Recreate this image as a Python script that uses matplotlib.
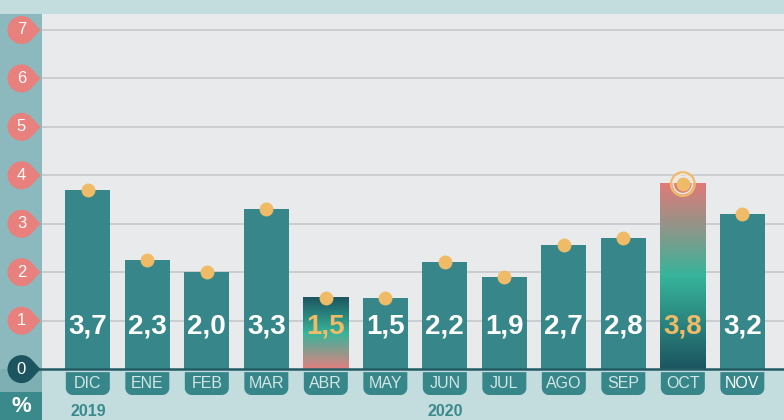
import numpy as np
import matplotlib
matplotlib.use("Agg")
import matplotlib.pyplot as plt
from matplotlib.patches import Polygon, Rectangle
from matplotlib.colors import LinearSegmentedColormap

months = ["DIC", "ENE", "FEB", "MAR", "ABR", "MAY", "JUN", "JUL", "AGO", "SEP", "OCT", "NOV"]
# bar heights as drawn in the picture
bar_heights = [3.70, 2.26, 2.0, 3.30, 1.47, 1.47, 2.21, 1.90, 2.57, 2.71, 3.82, 3.20]
value_labels = ["3,7", "2,3", "2,0", "3,3", "1,5", "1,5", "2,2", "1,9", "2,7", "2,8", "3,8", "3,2"]
highlight = ["ABR", "OCT"]
years = [("2019", 0), ("2020", 6)]
yticks = [0, 1, 2, 3, 4, 5, 6, 7]

W, H = 784, 420
plt.rcParams['font.family'] = ['Liberation Sans', 'DejaVu Sans']

TEAL = "#37878a"
DARK = "#1c5560"
PINK = "#e8807d"
ORANGE = "#f0bb66"
GREEN = "#37b49b"
LIGHT = "#c3dcde"
PLOTBG = "#e9eaec"

fig = plt.figure(figsize=(W / 100, H / 100), dpi=100)
fig.patch.set_facecolor(LIGHT)

ax = fig.add_axes([42 / W, 0, (W - 42) / W, (H - 14) / H])
ax.set_facecolor(PLOTBG)
ax.axis("off")
ax.add_patch(Rectangle((-0.77, 7.33), 12.47, -8.38, facecolor=PLOTBG, edgecolor="none", zorder=0))
ax.axhspan(-1.05, 0, color=LIGHT, zorder=0.5)

for t in yticks[1:]:
    ax.axhline(t, color="#c8cace", lw=1.3, zorder=1)

bw = 0.76
x = np.arange(len(months))
grad_abr = LinearSegmentedColormap.from_list("abr", ["#e2807f", GREEN, DARK])
grad_oct = LinearSegmentedColormap.from_list("oct", [DARK, GREEN, "#e07a78"])
for i, (m, v) in enumerate(zip(months, bar_heights)):
    if m in highlight:
        cmap = grad_abr if m == "ABR" else grad_oct
        grad = np.linspace(0, 1, 256).reshape(-1, 1)
        ax.imshow(grad, cmap=cmap, origin="lower", aspect="auto",
                  extent=[i - bw / 2, i + bw / 2, 0, v], zorder=2)
    else:
        ax.bar(i, v, width=bw, color=TEAL, zorder=2)
    col = ORANGE if m in highlight else "white"
    ax.text(i, 0.88, value_labels[i], ha="center", va="center", fontsize=20,
            fontweight="bold", color=col, zorder=5)

ax.scatter(x, bar_heights, s=100, color=ORANGE, zorder=6, linewidths=0)
oi = months.index("OCT")
ax.scatter([oi], [bar_heights[oi]], s=290, facecolor="none", edgecolor=ORANGE, linewidths=1.6, zorder=6)
ax.scatter([oi], [bar_heights[oi]], s=190, facecolor="none", edgecolor="#f4e6da", linewidths=1.2, zorder=6)

ax.set_xlim(-0.77, 11.70)
ax.set_ylim(-1.05, 7.33)

# overlay in pixel coordinates
fig.canvas.draw()
ov = fig.add_axes([0, 0, 1, 1], zorder=10)
ov.set_xlim(0, W)
ov.set_ylim(H, 0)
ov.axis("off")
ov.patch.set_alpha(0)

def px(xd, yd):
    X, Y = ax.transData.transform((xd, yd))
    return X, H - Y

y0 = px(0, 0)[1]
# left strip
ov.add_patch(Rectangle((0, 14), 42, y0 - 14, facecolor="#8cb9bd", edgecolor="none", zorder=1))
ov.add_patch(Rectangle((0, y0), 42, 392 - y0, facecolor="#7eb0b3", edgecolor="none", zorder=1))
ov.add_patch(Rectangle((0, 392), 42, H - 392, facecolor="#3a8a8c", edgecolor="none", zorder=1))
ov.text(21, 407, "%", ha="center", va="center", fontsize=16, fontweight="bold", color="white", zorder=3)

# zero line
ov.plot([36, W], [y0, y0], color="#245c66", lw=1.8, zorder=2, solid_capstyle="butt")

def teardrop(cx, cy, r, tipx):
    ang = np.linspace(np.radians(40), np.radians(320), 60)
    pts = [(cx + r * np.cos(a), cy - r * np.sin(a)) for a in ang]
    pts.append((tipx, cy))
    return pts

for t in yticks:
    yy = px(0, t)[1]
    col = DARK if t == 0 else PINK
    ov.add_patch(Polygon(teardrop(21.5, yy, 14, 40.5), closed=True, facecolor=col, edgecolor="none", zorder=4))
    ov.text(21.5, yy, str(t), ha="center", va="center", fontsize=12, color="white", zorder=5)

def tab(xc, top, bottom, w, r):
    pts = [(xc - w / 2, top), (xc + w / 2, top)]
    for a in np.linspace(0, np.pi / 2, 12):
        pts.append((xc + w / 2 - r + r * np.cos(a), bottom - r + r * np.sin(a)))
    for a in np.linspace(np.pi / 2, np.pi, 12):
        pts.append((xc - w / 2 + r + r * np.cos(a), bottom - r + r * np.sin(a)))
    return pts

for i, m in enumerate(months):
    xc = px(i, 0)[0]
    ov.add_patch(Polygon(tab(xc, y0 + 3, 395, 44, 7), closed=True, facecolor=TEAL, edgecolor="none", zorder=3))
    tc = "white" if m == "NOV" else "#d3e6e6"
    ov.text(xc, 383, m, ha="center", va="center", fontsize=11.5, color=tc, zorder=4)

for label, i in years:
    xc = px(i, 0)[0]
    ov.text(xc, 411, label, ha="center", va="center", fontsize=11.5, fontweight="bold", color="#3a8a8c", zorder=4)

fig.savefig("out.png", dpi=100, facecolor=fig.get_facecolor())
